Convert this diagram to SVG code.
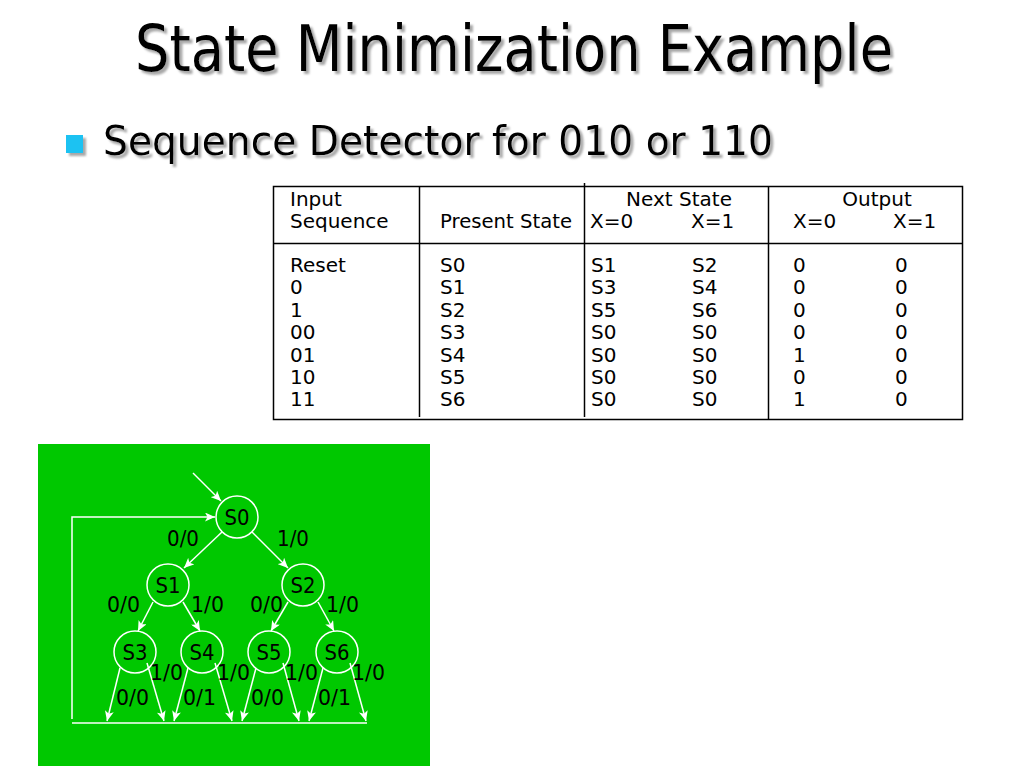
<svg xmlns="http://www.w3.org/2000/svg" width="1024" height="767" viewBox="0 0 1024 767">
<defs>
<filter id="sh" x="-5%" y="-20%" width="110%" height="150%">
<feDropShadow dx="3" dy="3" stdDeviation="1.2" flood-color="#8a8a8a" flood-opacity="0.75"/>
</filter>
<marker id="ah" markerUnits="userSpaceOnUse" markerWidth="10" markerHeight="9" refX="10" refY="4.5" orient="auto">
<path d="M0,0 L10,4.5 L0,9 L2.5,4.5 z" fill="#ffffff"/>
</marker>
<style>
.tt{font-family:"DejaVu Sans Condensed","DejaVu Sans",sans-serif;fill:#000}
.tb{font-family:"DejaVu Sans",sans-serif;font-size:20px;fill:#000}
.gl{stroke:#000;stroke-width:1.5;fill:none}
.nd{fill:none;stroke:#ffffff;stroke-width:1.5}
.nl{font-family:"DejaVu Sans",sans-serif;font-size:22px;fill:#000;text-anchor:middle}
.el{font-family:"DejaVu Sans",sans-serif;font-size:22px;fill:#000}
.cn{stroke:#ffffff;stroke-width:1.5;fill:none;marker-end:url(#ah)}
</style>
</defs>
<rect width="1024" height="767" fill="#ffffff"/>

<g id="title" filter="url(#sh)">
<text class="tt" x="135" y="71" font-size="64" textLength="758" lengthAdjust="spacingAndGlyphs">State Minimization Example</text>
</g>
<g id="bullet" filter="url(#sh)">
<rect x="66" y="135" width="17" height="18" fill="#1cc2f2"/>
<text x="103" y="155" font-family="DejaVu Sans, sans-serif" font-size="41" textLength="670" lengthAdjust="spacingAndGlyphs" fill="#000">Sequence Detector for 010 or 110</text>
</g>

<g id="table">
<rect x="273.5" y="186.5" width="689" height="233" class="gl"/>
<line x1="273" y1="243.5" x2="962" y2="243.5" class="gl" stroke-width="2"/>
<line x1="419.5" y1="187" x2="419.5" y2="417" class="gl"/>
<line x1="584.5" y1="183" x2="584.5" y2="417" class="gl"/>
<line x1="768.5" y1="187" x2="768.5" y2="419" class="gl"/>
<text class="tb" x="290" y="206">Input</text>
<text class="tb" x="290" y="228">Sequence</text>
<text class="tb" x="440" y="228" textLength="132" lengthAdjust="spacingAndGlyphs">Present State</text>
<text class="tb" x="679" y="206" text-anchor="middle">Next State</text>
<text class="tb" x="590" y="228">X=0</text>
<text class="tb" x="691" y="228">X=1</text>
<text class="tb" x="877" y="206" text-anchor="middle">Output</text>
<text class="tb" x="793" y="228">X=0</text>
<text class="tb" x="893" y="228">X=1</text>
<g id="col1">
<text class="tb" x="290" y="272">Reset</text>
<text class="tb" x="290" y="294.4">0</text>
<text class="tb" x="290" y="316.8">1</text>
<text class="tb" x="290" y="339.2">00</text>
<text class="tb" x="290" y="361.6">01</text>
<text class="tb" x="290" y="384">10</text>
<text class="tb" x="290" y="406.4">11</text>
</g>
<g id="col2">
<text class="tb" x="440" y="272">S0</text>
<text class="tb" x="440" y="294.4">S1</text>
<text class="tb" x="440" y="316.8">S2</text>
<text class="tb" x="440" y="339.2">S3</text>
<text class="tb" x="440" y="361.6">S4</text>
<text class="tb" x="440" y="384">S5</text>
<text class="tb" x="440" y="406.4">S6</text>
</g>
<g id="col3">
<text class="tb" x="591" y="272">S1</text>
<text class="tb" x="591" y="294.4">S3</text>
<text class="tb" x="591" y="316.8">S5</text>
<text class="tb" x="591" y="339.2">S0</text>
<text class="tb" x="591" y="361.6">S0</text>
<text class="tb" x="591" y="384">S0</text>
<text class="tb" x="591" y="406.4">S0</text>
</g>
<g id="col4">
<text class="tb" x="692" y="272">S2</text>
<text class="tb" x="692" y="294.4">S4</text>
<text class="tb" x="692" y="316.8">S6</text>
<text class="tb" x="692" y="339.2">S0</text>
<text class="tb" x="692" y="361.6">S0</text>
<text class="tb" x="692" y="384">S0</text>
<text class="tb" x="692" y="406.4">S0</text>
</g>
<g id="col5">
<text class="tb" x="793" y="272">0</text>
<text class="tb" x="793" y="294.4">0</text>
<text class="tb" x="793" y="316.8">0</text>
<text class="tb" x="793" y="339.2">0</text>
<text class="tb" x="793" y="361.6">1</text>
<text class="tb" x="793" y="384">0</text>
<text class="tb" x="793" y="406.4">1</text>
</g>
<g id="col6">
<text class="tb" x="895" y="272">0</text>
<text class="tb" x="895" y="294.4">0</text>
<text class="tb" x="895" y="316.8">0</text>
<text class="tb" x="895" y="339.2">0</text>
<text class="tb" x="895" y="361.6">0</text>
<text class="tb" x="895" y="384">0</text>
<text class="tb" x="895" y="406.4">0</text>
</g>
</g>

<rect id="panel" x="38" y="444" width="392" height="322" fill="#00c800"/>

<g id="connectors">
<line class="cn" x1="193" y1="473" x2="221" y2="501"/>
<polyline class="cn" points="72,719 72,517 215,517"/>
<line class="cn" x1="222" y1="532" x2="184" y2="568"/>
<line class="cn" x1="252" y1="532" x2="288" y2="568"/>
<line class="cn" x1="153" y1="602" x2="138" y2="631"/>
<line class="cn" x1="183" y1="602" x2="200" y2="631"/>
<line class="cn" x1="288" y1="602" x2="271" y2="631"/>
<line class="cn" x1="318" y1="602" x2="334" y2="631"/>
<line class="cn" x1="120" y1="668" x2="107" y2="721"/>
<line class="cn" x1="147" y1="663" x2="164" y2="721"/>
<line class="cn" x1="188" y1="668" x2="174" y2="721"/>
<line class="cn" x1="215" y1="663" x2="232" y2="721"/>
<line class="cn" x1="256" y1="668" x2="242" y2="721"/>
<line class="cn" x1="283" y1="663" x2="299" y2="721"/>
<line class="cn" x1="323" y1="668" x2="309" y2="721"/>
<line class="cn" x1="350" y1="663" x2="366" y2="721"/>
<line x1="72" y1="723" x2="367" y2="723" stroke="#ffffff" stroke-width="1.5"/>
</g>

<g id="S0"><circle class="nd" cx="237" cy="517" r="21"/><text class="nl" x="237" y="525" textLength="25" lengthAdjust="spacingAndGlyphs">S0</text></g>
<g id="S1"><circle class="nd" cx="168" cy="585" r="21"/><text class="nl" x="168" y="593" textLength="25" lengthAdjust="spacingAndGlyphs">S1</text></g>
<g id="S2"><circle class="nd" cx="303" cy="585" r="21"/><text class="nl" x="303" y="593" textLength="25" lengthAdjust="spacingAndGlyphs">S2</text></g>
<g id="S3"><circle class="nd" cx="135" cy="652" r="21"/><text class="nl" x="135" y="660" textLength="25" lengthAdjust="spacingAndGlyphs">S3</text></g>
<g id="S4"><circle class="nd" cx="202" cy="652" r="21"/><text class="nl" x="202" y="660" textLength="25" lengthAdjust="spacingAndGlyphs">S4</text></g>
<g id="S5"><circle class="nd" cx="269" cy="652" r="21"/><text class="nl" x="269" y="660" textLength="25" lengthAdjust="spacingAndGlyphs">S5</text></g>
<g id="S6"><circle class="nd" cx="337" cy="652" r="21"/><text class="nl" x="337" y="660" textLength="25" lengthAdjust="spacingAndGlyphs">S6</text></g>

<g id="edge-labels">
<text class="el" x="167" y="546" textLength="32" lengthAdjust="spacingAndGlyphs">0/0</text>
<text class="el" x="277" y="546" textLength="32" lengthAdjust="spacingAndGlyphs">1/0</text>
<text class="el" x="107" y="612" textLength="33" lengthAdjust="spacingAndGlyphs">0/0</text>
<text class="el" x="191" y="612" textLength="33" lengthAdjust="spacingAndGlyphs">1/0</text>
<text class="el" x="250" y="612" textLength="33" lengthAdjust="spacingAndGlyphs">0/0</text>
<text class="el" x="326" y="612" textLength="33" lengthAdjust="spacingAndGlyphs">1/0</text>
<text class="el" x="150" y="680" textLength="33" lengthAdjust="spacingAndGlyphs">1/0</text>
<text class="el" x="217" y="680" textLength="33" lengthAdjust="spacingAndGlyphs">1/0</text>
<text class="el" x="285" y="680" textLength="33" lengthAdjust="spacingAndGlyphs">1/0</text>
<text class="el" x="352" y="680" textLength="33" lengthAdjust="spacingAndGlyphs">1/0</text>
<text class="el" x="116" y="705" textLength="33" lengthAdjust="spacingAndGlyphs">0/0</text>
<text class="el" x="183" y="705" textLength="33" lengthAdjust="spacingAndGlyphs">0/1</text>
<text class="el" x="251" y="705" textLength="33" lengthAdjust="spacingAndGlyphs">0/0</text>
<text class="el" x="318" y="705" textLength="33" lengthAdjust="spacingAndGlyphs">0/1</text>
</g>
</svg>
